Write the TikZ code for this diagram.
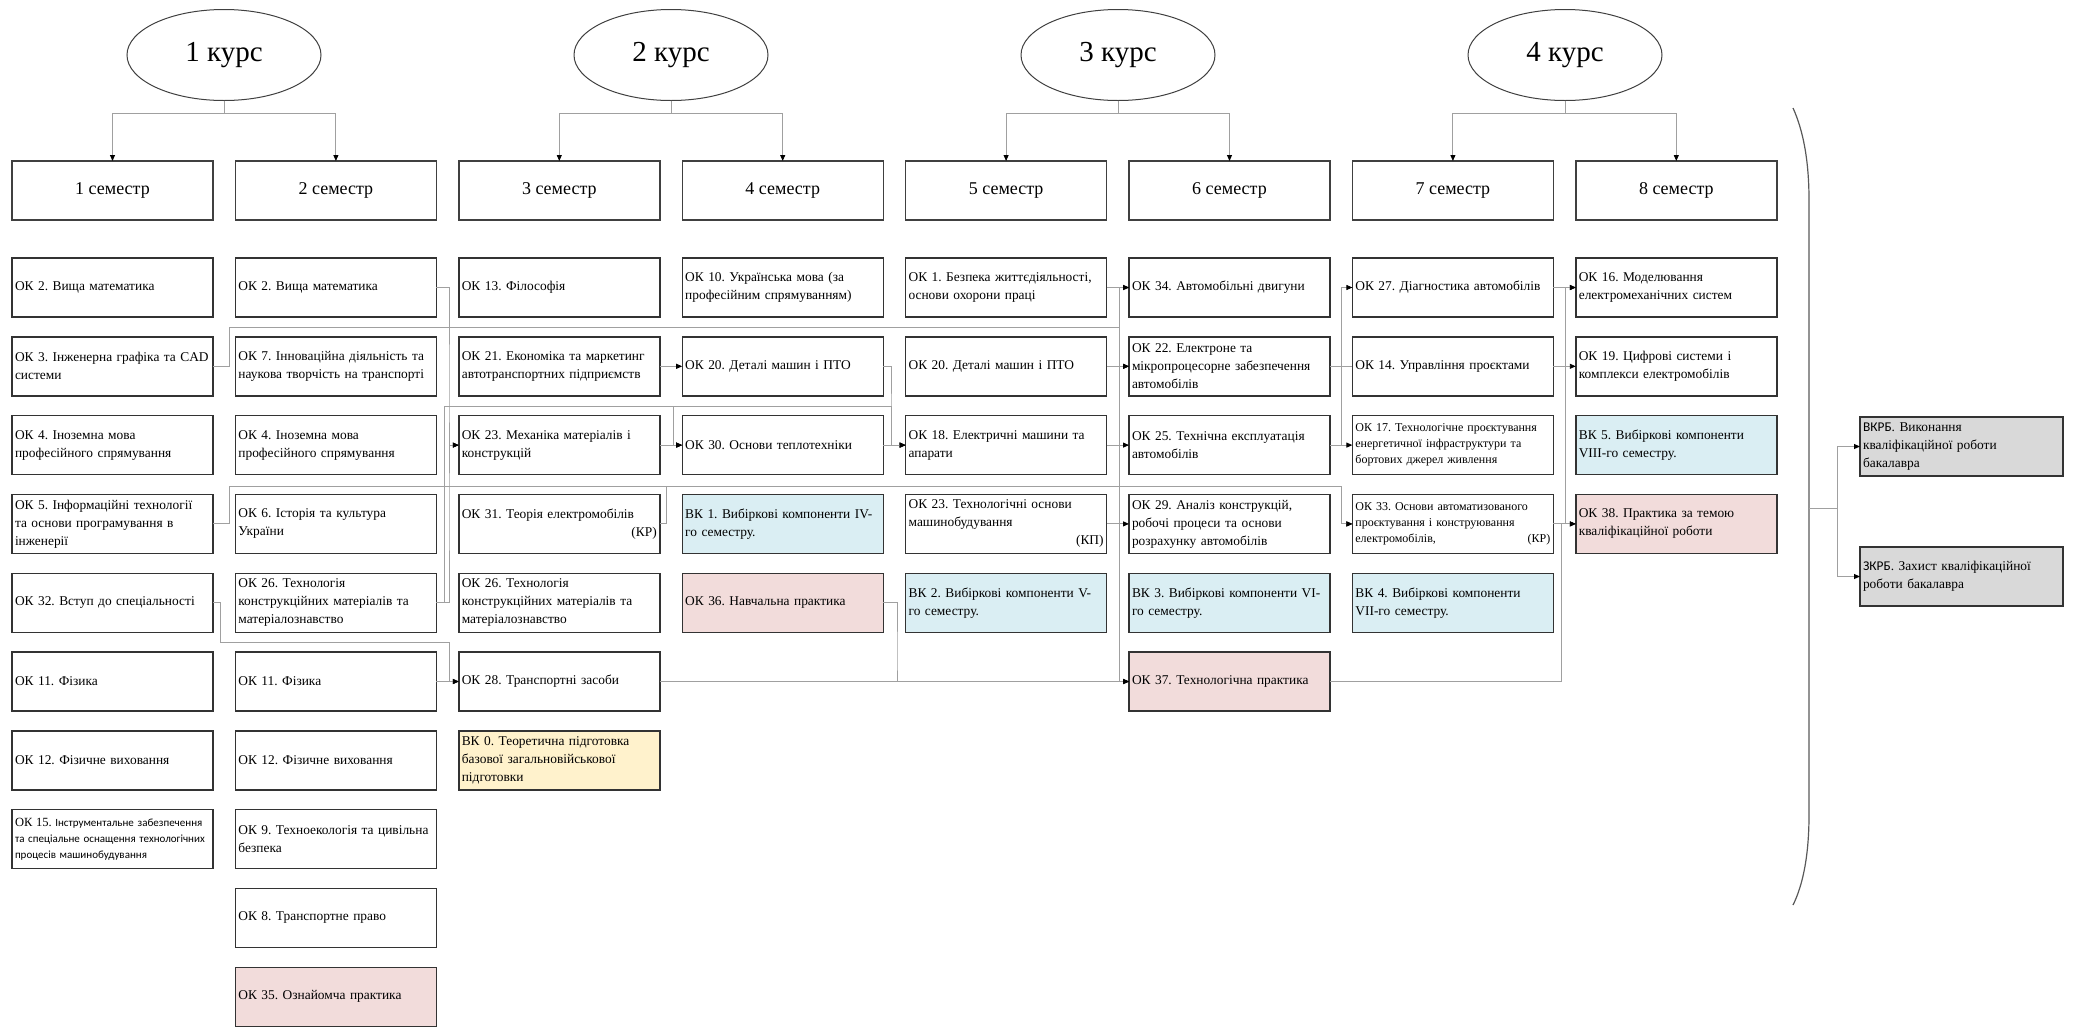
\documentclass[tikz,border=0pt]{standalone}
\usepackage{fontspec}
\setmainfont{Liberation Serif}
\newfontfamily\calibrifont{Carlito}
\usetikzlibrary{shapes.geometric, positioning, arrows.meta}
\definecolor{vk_blue}{RGB}{218, 238, 243}
\definecolor{pr_pink}{RGB}{242, 220, 219}
\definecolor{vk_yellow}{RGB}{255, 242, 204}
\definecolor{kr_gray}{RGB}{217, 217, 217}
\definecolor{line_gray}{RGB}{160, 160, 160}
\tikzset {
  course/.style = {draw=black!75, line width=1pt, ellipse, minimum width=194pt, minimum height=91pt, font=\fontsize{29}{32}\selectfont},
  sem/.style = {draw=black!75, line width=1.4pt, rectangle, minimum width=201pt, minimum height=59pt, font=\fontsize{18}{20}\selectfont},
  box/.style = {draw=black!80, line width=1.4pt, rectangle, fill=white, text width=195pt, inner xsep=3pt, minimum height=59pt, align=left, font=\fontsize{13.4}{18}\selectfont},
  vkbox/.style = {box, fill=vk_blue},
  prbox/.style = {box, fill=pr_pink},
  ylbox/.style = {box, fill=vk_yellow},
  grbox/.style = {box, fill=kr_gray, text width=197pt},
  small/.style = {font=\fontsize{12}{16}\selectfont},
  link/.style = {draw=line_gray, line width=0.9pt},
  arr/.style = {link, -{Triangle[length=6pt, width=5pt, color=black]}},
  bigbrace/.style = {draw=black!65, line width=1.2pt}
}

\begin{document}
\frenchspacing
\begin{tikzpicture}[x=1pt, y=-1pt, outer sep=0pt, node distance=19.8pt and 22.4pt]
    \useasboundingbox (0,0) rectangle (2073,1029);

    % courses
    \node[course] (k1) at (224,55) {1 курс};
    \node[course] (k2) at (671,55) {2 курс};
    \node[course] (k3) at (1118,55) {3 курс};
    \node[course] (k4) at (1565,55) {4 курс};

    % semesters
    \node[sem, anchor=north west] (s1) at (12,161) {1 семестр};
    \node[sem, right=of s1] (s2) {2 семестр};
    \node[sem, right=of s2] (s3) {3 семестр};
    \node[sem, right=of s3] (s4) {4 семестр};
    \node[sem, right=of s4] (s5) {5 семестр};
    \node[sem, right=of s5] (s6) {6 семестр};
    \node[sem, right=of s6] (s7) {7 семестр};
    \node[sem, right=of s7] (s8) {8 семестр};

    \draw[arr] (k1.south) -- ++(0,13) -| (s1.north);
    \draw[arr] (k1.south) -- ++(0,13) -| (s2.north);
    \draw[arr] (k2.south) -- ++(0,13) -| (s3.north);
    \draw[arr] (k2.south) -- ++(0,13) -| (s4.north);
    \draw[arr] (k3.south) -- ++(0,13) -| (s5.north);
    \draw[arr] (k3.south) -- ++(0,13) -| (s6.north);
    \draw[arr] (k4.south) -- ++(0,13) -| (s7.north);
    \draw[arr] (k4.south) -- ++(0,13) -| (s8.north);

    % 1 semester
    \node[box, below=38pt of s1] (c1r1) {ОК 2. Вища математика};
    \node[box, below=of c1r1] (c1r2) {ОК 3. Інженерна графіка та CAD\\системи};
    \node[box, below=of c1r2] (c1r3) {ОК 4. Іноземна мова\\професійного спрямування};
    \node[box, below=of c1r3] (c1r4) {ОК 5. Інформаційні технології\\та основи програмування в\\інженерії};
    \node[box, below=of c1r4] (c1r5) {ОК 32. Вступ до спеціальності};
    \node[box, below=of c1r5] (c1r6) {ОК 11. Фізика};
    \node[box, below=of c1r6] (c1r7) {ОК 12. Фізичне виховання};
    \node[box, below=of c1r7, font=\fontsize{11}{16}\selectfont] (c1r8) {{\fontsize{12.5}{16}\selectfont ОК 15.} {\calibrifont Інструментальне забезпечення}\\{\calibrifont та спеціальне оснащення технологічних}\\{\calibrifont процесів машинобудування}};

    % 2 semester
    \node[box, below=38pt of s2] (c2r1) {ОК 2. Вища математика};
    \node[box, below=of c2r1] (c2r2) {ОК 7. Інноваційна діяльність та\\наукова творчість на транспорті};
    \node[box, below=of c2r2] (c2r3) {ОК 4. Іноземна мова\\професійного спрямування};
    \node[box, below=of c2r3] (c2r4) {ОК 6. Історія та культура\\України};
    \node[box, below=of c2r4] (c2r5) {ОК 26. Технологія\\конструкційних матеріалів та\\матеріалознавство};
    \node[box, below=of c2r5] (c2r6) {ОК 11. Фізика};
    \node[box, below=of c2r6] (c2r7) {ОК 12. Фізичне виховання};
    \node[box, below=of c2r7] (c2r8) {ОК 9. Техноекологія та цивільна\\безпека};
    \node[box, below=of c2r8] (c2r9) {ОК 8. Транспортне право};
    \node[prbox, below=of c2r9] (c2r10) {ОК 35. Ознайомча практика};

    % 3 semester
    \node[box, below=38pt of s3] (c3r1) {ОК 13. Філософія};
    \node[box, below=of c3r1] (c3r2) {ОК 21. Економіка та маркетинг\\автотранспортних підприємств};
    \node[box, below=of c3r2] (c3r3) {ОК 23. Механіка матеріалів і\\конструкцій};
    \node[box, below=of c3r3] (c3r4) {ОК 31. Теорія електромобілів\\\hfill(КР)};
    \node[box, below=of c3r4] (c3r5) {ОК 26. Технологія\\конструкційних матеріалів та\\матеріалознавство};
    \node[box, below=of c3r5] (c3r6) {ОК 28. Транспортні засоби};
    \node[ylbox, below=of c3r6] (c3r7) {ВК 0. Теоретична підготовка\\базової загальновійськової\\підготовки};

    % 4 semester
    \node[box, below=38pt of s4] (c4r1) {ОК 10. Українська мова (за\\професійним спрямуванням)};
    \node[box, below=of c4r1] (c4r2) {ОК 20. Деталі машин і ПТО};
    \node[box, below=of c4r2] (c4r3) {ОК 30. Основи теплотехніки};
    \node[vkbox, below=of c4r3] (c4r4) {ВК 1. Вибіркові компоненти IV-\\го семестру.};
    \node[prbox, below=of c4r4] (c4r5) {ОК 36. Навчальна практика};

    % 5 semester
    \node[box, below=38pt of s5] (c5r1) {ОК 1. Безпека життєдіяльності,\\основи охорони праці};
    \node[box, below=of c5r1] (c5r2) {ОК 20. Деталі машин і ПТО};
    \node[box, below=of c5r2] (c5r3) {ОК 18. Електричні машини та\\апарати};
    \node[box, below=of c5r3] (c5r4) {ОК 23. Технологічні основи\\машинобудування\\\hfill(КП)};
    \node[vkbox, below=of c5r4] (c5r5) {ВК 2. Вибіркові компоненти V-\\го семестру.};

    % 6 semester
    \node[box, below=38pt of s6] (c6r1) {ОК 34. Автомобільні двигуни};
    \node[box, below=of c6r1] (c6r2) {ОК 22. Електроне та\\мікропроцесорне забезпечення\\автомобілів};
    \node[box, below=of c6r2] (c6r3) {ОК 25. Технічна експлуатація\\автомобілів};
    \node[box, below=of c6r3] (c6r4) {ОК 29. Аналіз конструкцій,\\робочі процеси та основи\\розрахунку автомобілів};
    \node[vkbox, below=of c6r4] (c6r5) {ВК 3. Вибіркові компоненти VI-\\го семестру.};
    \node[prbox, below=of c6r5] (c6r6) {ОК 37. Технологічна практика};

    % 7 semester
    \node[box, below=38pt of s7] (c7r1) {ОК 27. Діагностика автомобілів};
    \node[box, below=of c7r1] (c7r2) {ОК 14. Управління проєктами};
    \node[box, small, below=of c7r2] (c7r3) {ОК 17. Технологічне проєктування\\енергетичної інфраструктури та\\бортових джерел живлення};
    \node[box, small, below=of c7r3] (c7r4) {ОК 33. Основи автоматизованого\\проєктування і конструювання\\електромобілів, \hfill(КР)};
    \node[vkbox, below=of c7r4] (c7r5) {ВК 4. Вибіркові компоненти\\VII-го семестру.};

    % 8 semester
    \node[box, below=38pt of s8] (c8r1) {ОК 16. Моделювання\\електромеханічних систем};
    \node[box, below=of c8r1] (c8r2) {ОК 19. Цифрові системи і\\комплекси електромобілів};
    \node[vkbox, below=of c8r2] (c8r3) {ВК 5. Вибіркові компоненти\\VIII-го семестру.};
    \node[prbox, below=of c8r3] (c8r4) {ОК 38. Практика за темою\\кваліфікаційної роботи};

    % final attestation
    \node[grbox, anchor=north west] (vkrb) at (1860,417) {{\calibrifont ВКРБ}. Виконання\\кваліфікаційної роботи\\бакалавра};
    \node[grbox, anchor=north west] (zkrb) at (1860,547) {{\calibrifont ЗКРБ}. Захист кваліфікаційної\\роботи бакалавра};

    % links 1 -> 2 -> 3
    \draw[arr] (c1r2.east) -| (229,327) -- (1119,327) |- (c6r2.west);
    \draw[arr] (c1r2.east) -| (229,327) -- (1119,327) |- (c6r1.west);
    \draw[arr] (c1r2.east) -| (229,327) -- (1119,327) |- (c6r6.west);
    \draw[arr] (c1r4.east) -| (229,486) -- (1341,486) |- (c7r4.west);
    \draw[arr] (c1r5.east) -| (220,642) -- (449,642) |- (c3r6.west);
    \draw[arr] (c2r6.east) -- (c3r6.west);
    \draw[arr] (c2r1.east) -| (449,400) |- (c3r3.west);
    \draw[arr] (c2r5.east) -| (449,500) |- (c3r3.west);
    \draw[arr] (c2r5.east) -| (444,406) -- (673,406) |- (c4r3.west);
    \draw[arr] (c2r5.east) -| (444,406) -- (891,406) |- (c5r3.west);

    % links 3 -> 4 -> 5
    \draw[arr] (c3r2.east) -- (c4r2.west);
    \draw[arr] (c3r3.east) -- (c4r3.west);
    \draw[arr] (c3r4.east) -| (666,486) -- (1341,486) |- (c7r4.west);
    \draw[arr] (c4r2.east) -| (891,420) |- (c5r3.west);
    \draw[arr] (c4r3.east) -- (c5r3.west);
    \draw[arr] (c4r5.east) -| (897,660) |- (c6r6.west);
    \draw[arr] (c3r6.east) -- (c6r6.west);

    % links 5 -> 6 -> 7 -> 8
    \draw[arr] (c5r1.east) -- (c6r1.west);
    \draw[arr] (c5r2.east) -- (c6r2.west);
    \draw[arr] (c5r3.east) -- (c6r3.west);
    \draw[arr] (c5r4.east) -- (c6r4.west);
    \draw[arr] (c6r3.east) -| (1341,400) |- (c7r1.west);
    \draw[arr] (c6r3.east) -- (c7r3.west);
    \draw[link] (c6r2.east) -- (c7r2.west);
    \draw[arr] (c7r1.east) -- (c8r1.west);
    \draw[arr] (c7r2.east) -- (c8r2.west);
    \draw[arr] (c7r4.east) -- (c8r4.west);
    \draw[arr] (c7r4.east) -| (1565,400) |- (c8r1.west);
    \draw[arr] (c6r6.east) -| (1561,600) |- (c8r4.west);

    % bracket
    \draw[bigbrace] (1793,108) .. controls (1803,130) and (1809,160) .. (1809,200) -- (1809,815) .. controls (1809,855) and (1803,885) .. (1793,905);
    \coordinate (tick) at (1809,508);
    \draw[arr] (tick) -- (1837,508) |- (vkrb.west);
    \draw[arr] (tick) -- (1837,508) |- (zkrb.west);

  \end{tikzpicture}
\end{document}
